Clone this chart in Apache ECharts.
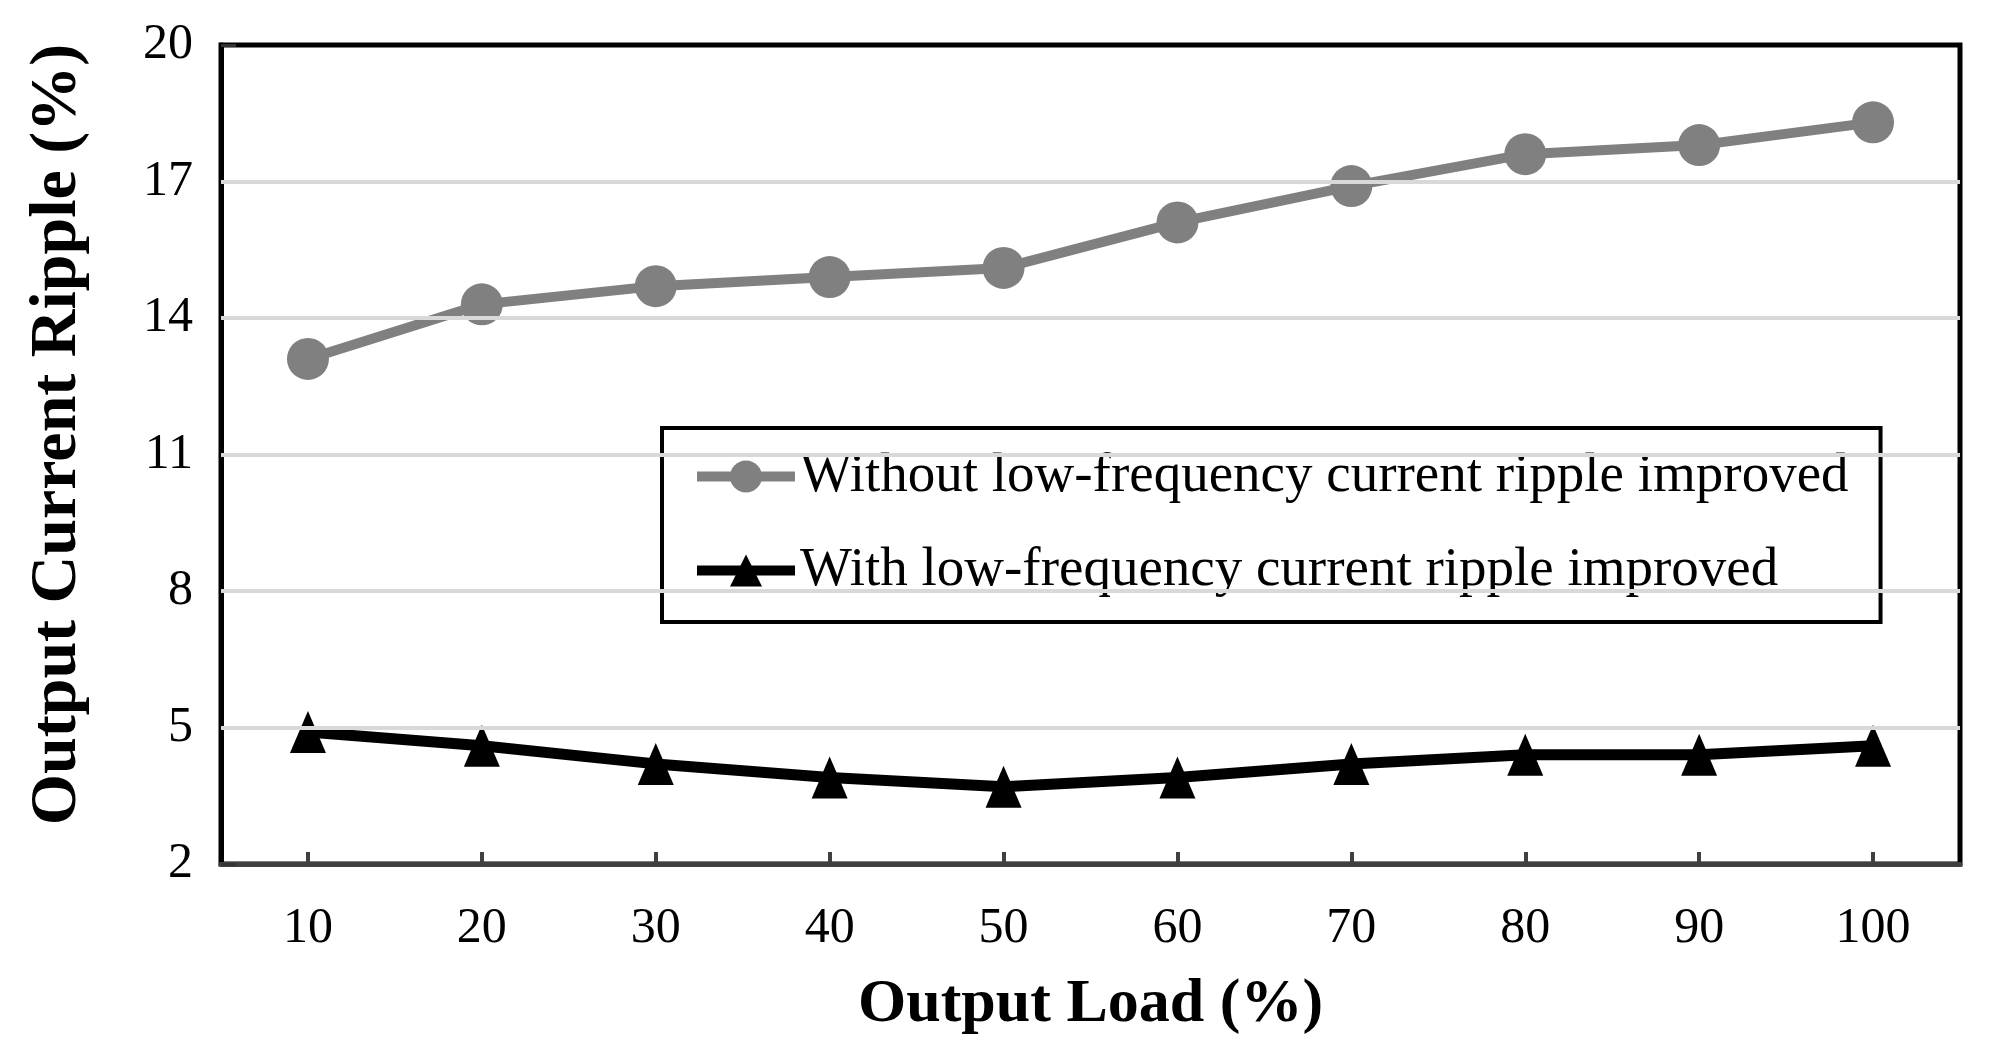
<!DOCTYPE html>
<html>
<head>
<meta charset="utf-8">
<script src="https://cdn.jsdelivr.net/npm/echarts@6/dist/echarts.min.js"></script>
<style>
html,body{margin:0;padding:0;background:#fff;}
#chart{width:1995px;height:1046px;}
</style>
</head>
<body>
<div id="chart"></div>
<script>
const categories = ['10','20','30','40','50','60','70','80','90','100'];
const withoutImproved = [13.1, 14.3, 14.7, 14.9, 15.1, 16.1, 16.9, 17.6, 17.8, 18.3];
const withImproved = [4.9, 4.6, 4.2, 3.9, 3.7, 3.9, 4.2, 4.4, 4.4, 4.6];
const yTicks = [2, 5, 8, 11, 14, 17, 20];
const gridValues = [5, 8, 11, 14, 17];
const seriesNames = ['Without low-frequency current ripple improved', 'With low-frequency current ripple improved'];

const FONT = '"Liberation Serif", "Times New Roman", serif';
const chart = echarts.init(document.getElementById('chart'), null, {renderer: 'canvas'});
chart.setOption({
  backgroundColor: '#fff',
  animation: false,
  grid: {
    left: 221, right: 35, top: 45, bottom: 182,
    show: true, borderColor: '#000', borderWidth: 5, backgroundColor: 'transparent'
  },
  legend: {
    data: seriesNames,
    orient: 'vertical',
    left: 662, top: 428,
    padding: [21, 32, 24, 30],
    itemGap: 39,
    itemWidth: 98, itemHeight: 40,
    borderColor: '#000', borderWidth: 4,
    backgroundColor: '#fff',
    lineStyle: {width: 10},
    textStyle: {fontFamily: FONT, fontSize: 55, color: '#000'}
  },
  xAxis: {
    type: 'category',
    data: categories,
    boundaryGap: true,
    name: 'Output Load (%)',
    nameLocation: 'middle',
    nameGap: 110,
    nameTextStyle: {fontFamily: FONT, fontSize: 62, fontWeight: 'bold', color: '#000'},
    axisLine: {lineStyle: {color: '#404040', width: 5}},
    axisTick: {show: true, inside: true, alignWithLabel: true, length: 12, lineStyle: {color: '#404040', width: 4}},
    axisLabel: {fontFamily: FONT, fontSize: 50, color: '#000', margin: 40},
    splitLine: {show: false}
  },
  yAxis: {
    type: 'value',
    min: 2, max: 20,
    name: 'Output Current Ripple (%)',
    nameLocation: 'middle',
    nameGap: 130,
    nameTextStyle: {fontFamily: FONT, fontSize: 66, fontWeight: 'bold', color: '#000', padding: [0, 0, 0, 40]},
    axisLine: {show: true, lineStyle: {color: '#000', width: 5}},
    axisTick: {show: true, inside: true, length: 15, customValues: yTicks, lineStyle: {color: '#333', width: 3}},
    axisLabel: {fontFamily: FONT, fontSize: 50, color: '#000', margin: 28, customValues: yTicks},
    splitLine: {show: false}
  },
  series: [
    {
      name: 'grid',
      type: 'line',
      data: [],
      z: 1,
      silent: true,
      markLine: {
        silent: true,
        symbol: 'none',
        label: {show: false},
        lineStyle: {color: '#d9d9d9', width: 4, type: 'solid'},
        data: gridValues.map(v => ({yAxis: v}))
      }
    },
    {
      name: seriesNames[0],
      type: 'line',
      data: withoutImproved,
      symbol: 'circle',
      symbolSize: 42,
      z: 3,
      itemStyle: {color: '#808080'},
      lineStyle: {color: '#808080', width: 10}
    },
    {
      name: seriesNames[1],
      type: 'line',
      data: withImproved,
      symbol: 'triangle',
      symbolSize: [36, 42],
      z: 4,
      itemStyle: {color: '#000'},
      lineStyle: {color: '#000', width: 11}
    }
  ]
});
</script>
</body>
</html>
